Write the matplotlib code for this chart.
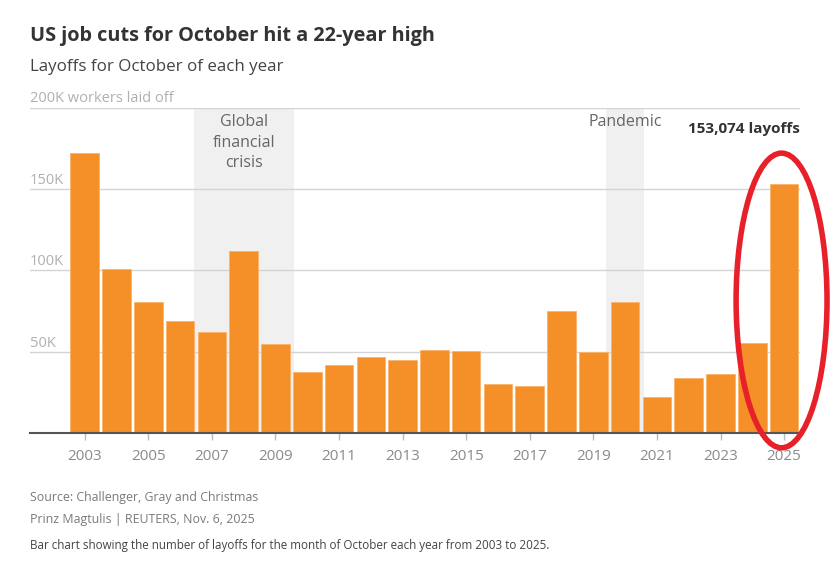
import matplotlib
matplotlib.use("Agg")
import matplotlib.pyplot as plt
from matplotlib.patches import Ellipse

plt.rcParams['font.family'] = ['Open Sans', 'DejaVu Sans']

# October layoffs, thousands of workers
years = list(range(2003, 2026))
layoffs_k = [171.9, 101.2, 80.8, 68.8, 62.4, 112.2, 55.1, 37.6, 42.0, 46.9, 45.1,
             51.0, 50.4, 30.3, 29.3, 75.4, 50.0, 80.5, 22.4, 33.7, 36.6, 55.6, 153.074]
tick_years = list(range(2003, 2026, 2))
y_ticks = [50, 100, 150]
y_tick_labels = ['50K', '100K', '150K']

# shaded periods
gfc_span = (2006.45, 2009.58)
pandemic_span = (2019.4, 2020.6)

orange = '#f58f27'

fig = plt.figure(figsize=(8.39, 5.64), dpi=100)
ax = fig.add_axes([30 / 839, 1 - 433.3 / 564, 770 / 839, (433.3 - 107.7) / 564])

ax.axvspan(*gfc_span, color='#f0f0f0', zorder=0, lw=0)
ax.axvspan(*pandemic_span, color='#f0f0f0', zorder=0, lw=0)

for y in y_ticks + [200]:
    ax.axhline(y, color='#d4d4d4', lw=1, zorder=1)

ax.bar(years, layoffs_k, width=0.9, color=orange, edgecolor='#fbb46a', lw=0.6, zorder=2)

ax.set_xlim(2001.28, 2025.5)
ax.set_ylim(0, 200)

for s in ['top', 'right', 'left']:
    ax.spines[s].set_visible(False)
ax.spines['bottom'].set_color('#555555')
ax.spines['bottom'].set_linewidth(1.5)
ax.spines['bottom'].set_zorder(3)

ax.set_xticks(tick_years)
ax.set_xticklabels([str(y) for y in tick_years], color='#8a8a8a', fontsize=11)
ax.tick_params(axis='x', length=5, color='#bbbbbb', width=1, pad=6)
ax.set_yticks([])

for y, lab in zip(y_ticks, y_tick_labels):
    ax.text(0, y + 0.8, lab, transform=ax.get_yaxis_transform(), ha='left', va='bottom',
            color='#b0b0b0', fontsize=10.5)
ax.text(0, 200.8, '200K workers laid off', transform=ax.get_yaxis_transform(),
        ha='left', va='bottom', color='#b0b0b0', fontsize=10.5)

ax.text(sum(gfc_span) / 2, 196, 'Global\nfinancial\ncrisis', ha='center', va='top',
        color='#666666', fontsize=11.5, linespacing=1.38)
ax.text(sum(pandemic_span) / 2, 196, 'Pandemic', ha='center', va='top',
        color='#666666', fontsize=11.5)
ax.text(2025.5, 187, '153,074 layoffs', ha='right', va='center',
        color='#333333', fontsize=11, fontweight='bold')

# red ellipse around the latest bar
ell = Ellipse((years[-1] - 0.08, 81.6), width=2.86, height=181, fill=False,
              edgecolor='#e8202a', lw=4, clip_on=False, zorder=5)
ax.add_patch(ell)

fig.text(30 / 839, 1 - 36 / 564, 'US job cuts for October hit a 22-year high',
         fontsize=14.3, fontweight='bold', color='#333333', va='center', ha='left')
fig.text(30 / 839, 1 - 67 / 564, 'Layoffs for October of each year',
         fontsize=12.2, color='#444444', va='center', ha='left')
fig.text(30 / 839, 1 - 497 / 564, 'Source: Challenger, Gray and Christmas',
         fontsize=8.9, color='#7a7a7a', va='center', ha='left')
fig.text(30 / 839, 1 - 519 / 564, 'Prinz Magtulis | REUTERS, Nov. 6, 2025',
         fontsize=8.9, color='#7a7a7a', va='center', ha='left')
fig.text(30 / 839, 1 - 545 / 564,
         'Bar chart showing the number of layoffs for the month of October each year from 2003 to 2025.',
         fontsize=8.4, color='#444444', va='center', ha='left')

fig.savefig('out.png', dpi=100)
